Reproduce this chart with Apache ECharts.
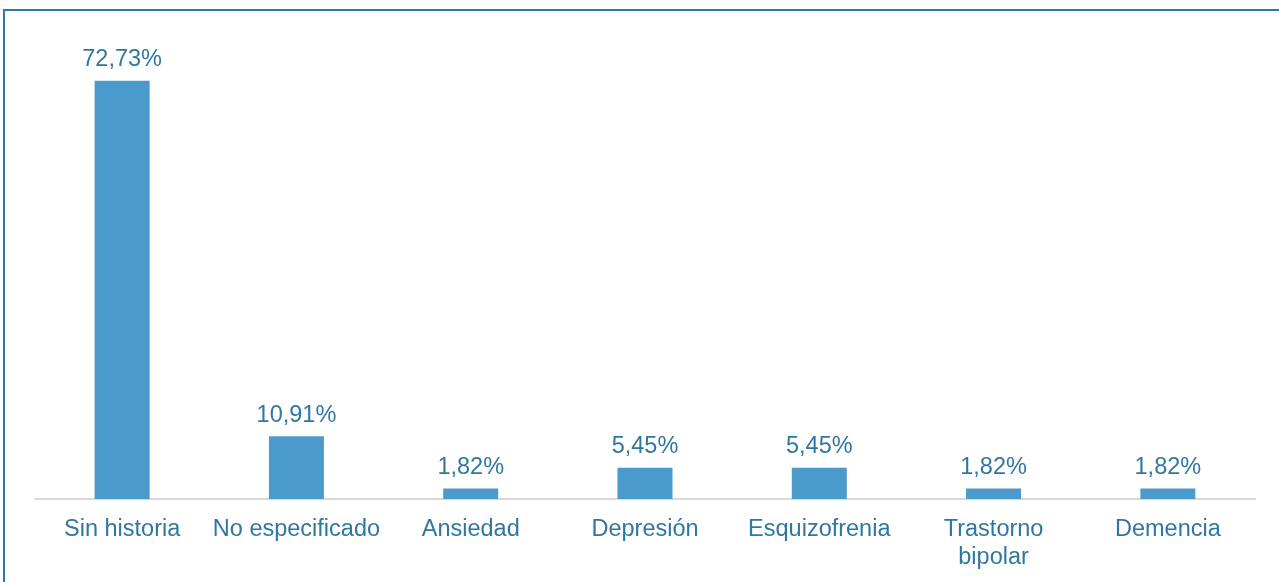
<!DOCTYPE html>
<html>
<head>
<meta charset="utf-8">
<script src="https://cdn.jsdelivr.net/npm/echarts@6/dist/echarts.min.js"></script>
<style>
  html, body { margin: 0; padding: 0; background: #ffffff; }
  #chart { width: 1279px; height: 582px; }
</style>
</head>
<body>
<div id="chart"></div>
<script>
// Antecedentes psiquiátricos (%)
const categories = ['Sin historia', 'No especificado', 'Ansiedad', 'Depresión', 'Esquizofrenia', 'Trastorno\nbipolar', 'Demencia'];
const values = [72.73, 10.91, 1.82, 5.45, 5.45, 1.82, 1.82];

const textColor = '#2f77a3';
const barColor = '#4a9bcb';

const chart = echarts.init(document.getElementById('chart'));
chart.setOption({
  animation: false,
  grid: { left: 35, right: 24, top: 39, bottom: 83, containLabel: false },
  xAxis: {
    type: 'category',
    data: categories,
    axisLine: { lineStyle: { color: '#d9d9d9', width: 2 } },
    axisTick: { show: false },
    axisLabel: {
      color: textColor,
      fontFamily: 'Liberation Sans, Arial, sans-serif',
      fontSize: 23.5,
      margin: 17,
      lineHeight: 28,
      interval: 0
    }
  },
  yAxis: {
    type: 'value',
    min: 0,
    max: 80,
    show: false,
    splitLine: { show: false }
  },
  series: [{
    type: 'bar',
    data: values,
    barWidth: 55,
    itemStyle: { color: barColor },
    label: {
      show: true,
      position: 'top',
      distance: 9,
      color: textColor,
      fontFamily: 'Liberation Sans, Arial, sans-serif',
      fontSize: 23.5,
      formatter: p => p.value.toFixed(2).replace('.', ',') + '%'
    }
  }],
  graphic: [
    {
      type: 'polyline',
      shape: { points: [[4, 582], [4, 10], [1279, 10]] },
      style: { stroke: '#2e7aa0', lineWidth: 2, fill: null }
    }
  ]
});
</script>
</body>
</html>
